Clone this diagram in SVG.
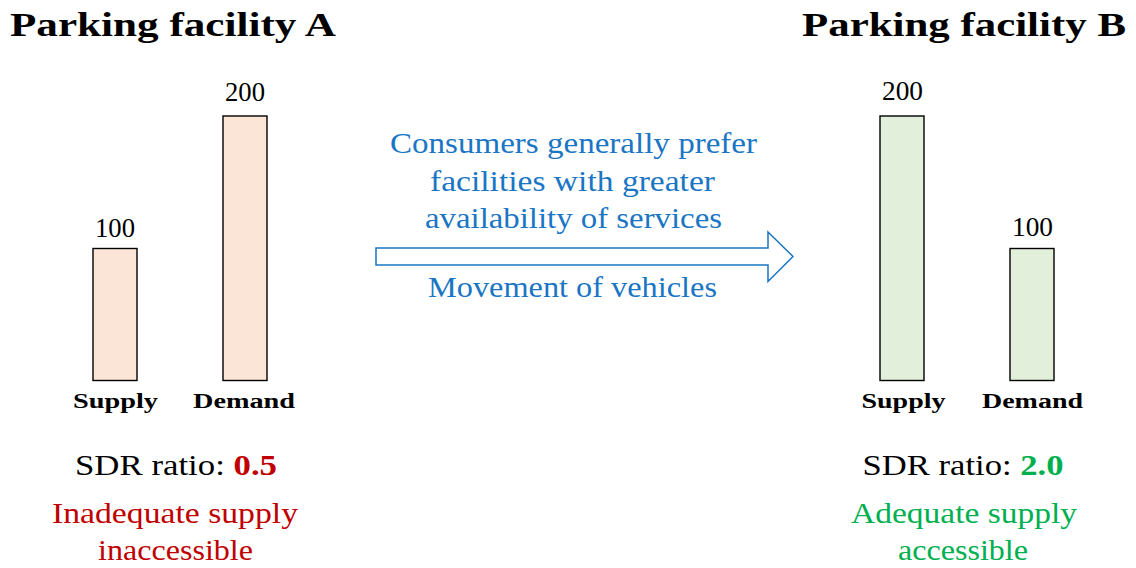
<svg xmlns="http://www.w3.org/2000/svg" width="1136" height="568" viewBox="0 0 1136 568">
<style>
text{font-family:"Liberation Serif","DejaVu Serif","Times New Roman",serif;}
.title{font-size:33px;font-weight:bold;fill:#000;}
.num{font-size:28px;fill:#000;text-anchor:middle;}
.lab{font-size:20px;font-weight:bold;fill:#000;text-anchor:middle;}
.sdr{font-size:29px;fill:#000;text-anchor:middle;}
.blue{font-size:29px;fill:#1a76c4;text-anchor:middle;}
.red{fill:#c00000;}
.green{fill:#00b050;}
.msg{font-size:29px;text-anchor:middle;}
.barA{fill:#fbe5d6;stroke:#000;stroke-width:1.4;}
.barB{fill:#e2efda;stroke:#000;stroke-width:1.4;}
.arrow{fill:#fff;stroke:#1a76c4;stroke-width:1.5;stroke-linejoin:miter;}
</style>
<rect width="1136" height="568" fill="#fff"/>
<g id="facilityA">
<text class="title" x="10" y="36" textLength="326" lengthAdjust="spacingAndGlyphs">Parking facility A</text>
<g id="A-supply">
<rect class="barA" x="93" y="248.5" width="44" height="132"/>
<text class="num" x="115" y="237" textLength="40" lengthAdjust="spacingAndGlyphs">100</text>
<text class="lab" x="115.5" y="408" textLength="85" lengthAdjust="spacingAndGlyphs">Supply</text>
</g>
<g id="A-demand">
<rect class="barA" x="223" y="116" width="44" height="264.5"/>
<text class="num" x="245" y="101" textLength="40" lengthAdjust="spacingAndGlyphs">200</text>
<text class="lab" x="244" y="408" textLength="102" lengthAdjust="spacingAndGlyphs">Demand</text>
</g>
<g id="A-ratio">
<text class="sdr" x="176" y="475" textLength="202" lengthAdjust="spacingAndGlyphs">SDR ratio: <tspan class="red" font-weight="bold">0.5</tspan></text>
<text class="msg red" x="175" y="523" textLength="246" lengthAdjust="spacingAndGlyphs">Inadequate supply</text>
<text class="msg red" x="175.5" y="560" textLength="155" lengthAdjust="spacingAndGlyphs">inaccessible</text>
</g>
</g>
<g id="facilityB">
<text class="title" x="802" y="36" textLength="324" lengthAdjust="spacingAndGlyphs">Parking facility B</text>
<g id="B-supply">
<rect class="barB" x="880" y="116" width="44" height="264.5"/>
<text class="num" x="902.5" y="100" textLength="41" lengthAdjust="spacingAndGlyphs">200</text>
<text class="lab" x="903.5" y="408" textLength="84" lengthAdjust="spacingAndGlyphs">Supply</text>
</g>
<g id="B-demand">
<rect class="barB" x="1010" y="248.5" width="44" height="132"/>
<text class="num" x="1032.5" y="236" textLength="41" lengthAdjust="spacingAndGlyphs">100</text>
<text class="lab" x="1032.5" y="408" textLength="101" lengthAdjust="spacingAndGlyphs">Demand</text>
</g>
<g id="B-ratio">
<text class="sdr" x="963" y="475" textLength="201" lengthAdjust="spacingAndGlyphs">SDR ratio: <tspan class="green" font-weight="bold">2.0</tspan></text>
<text class="msg green" x="964" y="523" textLength="226" lengthAdjust="spacingAndGlyphs">Adequate supply</text>
<text class="msg green" x="963" y="560" textLength="130" lengthAdjust="spacingAndGlyphs">accessible</text>
</g>
</g>
<g id="connectors">
<polygon class="arrow" points="376,248 768,248 768,232 793,256.5 768,281.5 768,265 376,265"/>
<text class="blue" x="573.5" y="153" textLength="367" lengthAdjust="spacingAndGlyphs">Consumers generally prefer</text>
<text class="blue" x="572.5" y="191" textLength="285" lengthAdjust="spacingAndGlyphs">facilities with greater</text>
<text class="blue" x="573.5" y="228" textLength="297" lengthAdjust="spacingAndGlyphs">availability of services</text>
<text class="blue" x="572.5" y="297" textLength="289" lengthAdjust="spacingAndGlyphs">Movement of vehicles</text>
</g>
</svg>
